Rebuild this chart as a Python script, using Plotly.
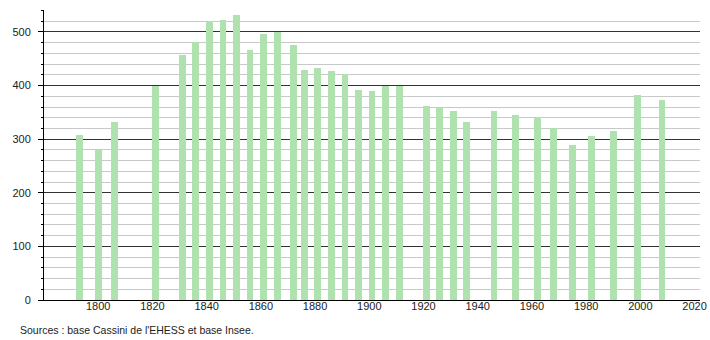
import plotly.graph_objects as go

years = [1793, 1800, 1806, 1821, 1831, 1836, 1841, 1846, 1851, 1856, 1861, 1866,
         1872, 1876, 1881, 1886, 1891, 1896, 1901, 1906, 1911, 1921, 1926, 1931,
         1936, 1946, 1954, 1962, 1968, 1975, 1982, 1990, 1999, 2008]
population = [308, 280, 332, 400, 457, 482, 520, 523, 532, 467, 497, 500,
              476, 430, 433, 428, 422, 391, 389, 400, 400, 362, 360, 353,
              332, 353, 345, 342, 321, 289, 306, 316, 383, 374]
x_ticks = [1800, 1820, 1840, 1860, 1880, 1900, 1920, 1940, 1960, 1980, 2000, 2020]
y_ticks = [0, 100, 200, 300, 400, 500]
source_text = "Sources : base Cassini de l'EHESS et base Insee."

fig = go.Figure()
fig.add_trace(go.Bar(
    x=years, y=population, width=2.5,
    marker=dict(color="#b0e2b0", line=dict(width=0)),
    hoverinfo="x+y",
))

font = dict(family="Liberation Sans, Arial, sans-serif", size=11, color="#222")

fig.update_layout(
    width=710, height=340,
    margin=dict(l=44, r=10, t=10, b=40),
    paper_bgcolor="white", plot_bgcolor="white",
    showlegend=False,
    font=font,
    bargap=0,
    xaxis=dict(
        range=[1780, 2022],
        tickvals=x_ticks,
        ticktext=[str(v) for v in x_ticks],
        showgrid=False, zeroline=False,
        showline=True, linecolor="black", linewidth=1,
        ticks="", ticklabelstandoff=-4,
        automargin=False,
        fixedrange=True,
    ),
    yaxis=dict(
        range=[0, 541],
        tickvals=y_ticks,
        showgrid=True, gridcolor="#333", gridwidth=1,
        zeroline=False,
        showline=True, linecolor="black", linewidth=1,
        ticks="outside", ticklen=5, tickcolor="black",
        ticklabelstandoff=5,
        minor=dict(dtick=20, tick0=0, showgrid=True, gridcolor="#c8c8c8",
                   gridwidth=1, ticks="outside", ticklen=2, tickcolor="black"),
        layer="below traces",
        automargin=False,
        fixedrange=True,
    ),
    annotations=[dict(
        text=source_text, xref="paper", yref="paper",
        x=-0.0396, y=-0.103, xanchor="left", yanchor="middle",
        showarrow=False, font=dict(family="Liberation Sans, Arial, sans-serif", size=10.5, color="#222"),
    )],
)

fig.write_html("out.html")
